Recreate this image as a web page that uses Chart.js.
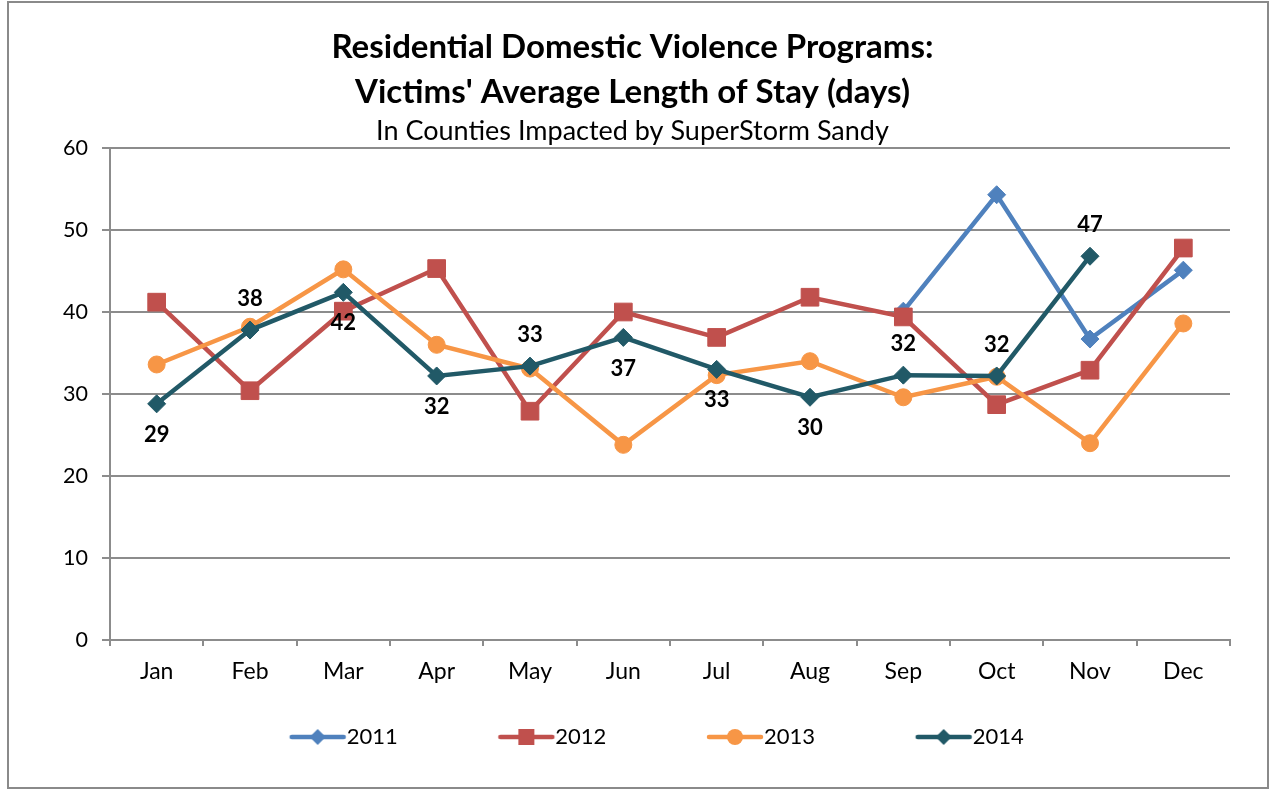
<!DOCTYPE html>
<html>
<head>
<meta charset="utf-8">
<title>Residential Domestic Violence Programs</title>
<script src="https://cdn.jsdelivr.net/npm/chart.js@4.4.1/dist/chart.umd.min.js"></script>
<style>
  html, body { margin: 0; padding: 0; background: #fff; }
  #wrap { position: relative; width: 1275px; height: 790px; }
  #frame { position: absolute; left: 7px; top: 1px; width: 1258px; height: 784px; border: 2px solid #8a8a8a; pointer-events: none; }
  canvas { display: block; }
</style>
</head>
<body>
<div id="wrap">
  <canvas id="chart" width="1275" height="790"></canvas>
  <div id="frame"></div>
</div>
<script>
const months = ["Jan", "Feb", "Mar", "Apr", "May", "Jun", "Jul", "Aug", "Sep", "Oct", "Nov", "Dec"];
const seriesNames = ["2011", "2012", "2013", "2014"];

// average length of stay, days
const stay2011 = [null, null, null, null, null, null, null, null, 40.1, 54.3, 36.7, 45.1];
const stay2012 = [41.2, 30.4, 40.1, 45.3, 27.9, 40.0, 36.9, 41.8, 39.4, 28.7, 32.9, 47.8];
const stay2013 = [33.6, 38.2, 45.2, 36.0, 33.1, 23.8, 32.3, 34.0, 29.6, 32.1, 24.0, 38.6];
const stay2014 = [28.8, 37.8, 42.4, 32.2, 33.4, 36.9, 33.0, 29.6, 32.3, 32.2, 46.8, null];

// where the 2014 value labels sit relative to their point
const labelSide2014 = ["below", "above", "below", "below", "above", "below", "below", "below", "above", "above", "above", null];

const FONT = 'Lato, "Open Sans", sans-serif';
const GRID = "#8c8c8c";
const LEGEND_BOX = 100;

const styles = [
  { color: "#4f81bd", point: "rectRot", radius: 9 },
  { color: "#c0504d", point: "rect", radius: 12.5 },
  { color: "#f79646", point: "circle", radius: 8.5 },
  { color: "#215967", point: "rectRot", radius: 9 }
];

// legend swatch: a short line with the series marker in the middle
function legendSwatch(style) {
  const half = LEGEND_BOX / 2 + 12;
  const shift = half - LEGEND_BOX / 2;
  const c = document.createElement("canvas");
  c.width = half * 2;
  c.height = 24;
  const g = c.getContext("2d");
  const x0 = LEGEND_BOX - 44 + shift;
  const x1 = LEGEND_BOX + 8 + shift;
  const cx = (x0 + x1) / 2, cy = 12;
  g.strokeStyle = style.color;
  g.fillStyle = style.color;
  g.lineWidth = 4.5;
  g.lineCap = "round";
  g.beginPath();
  g.moveTo(x0, cy);
  g.lineTo(x1, cy);
  g.stroke();
  g.beginPath();
  if (style.point === "rect") {
    g.rect(cx - 8, cy - 8, 16, 16);
  } else if (style.point === "circle") {
    g.arc(cx, cy, 8, 0, Math.PI * 2);
  } else {
    g.moveTo(cx, cy - 8);
    g.lineTo(cx + 8, cy);
    g.lineTo(cx, cy + 8);
    g.lineTo(cx - 8, cy);
    g.closePath();
  }
  g.fill();
  return c;
}

const swatches = styles.map(legendSwatch);

const pointLabels = {
  id: "pointLabels",
  afterDatasetsDraw(chart) {
    const meta = chart.getDatasetMeta(3);
    const ctx = chart.ctx;
    ctx.save();
    ctx.font = "bold 22px " + FONT;
    ctx.fillStyle = "#000";
    ctx.textAlign = "center";
    ctx.textBaseline = "middle";
    meta.data.forEach((pt, i) => {
      const v = stay2014[i];
      if (v == null || !labelSide2014[i]) return;
      const dy = labelSide2014[i] === "above" ? -31 : 31;
      ctx.fillText(String(Math.round(v)), pt.x, pt.y + dy);
    });
    ctx.restore();
  }
};

const series = [stay2011, stay2012, stay2013, stay2014];

new Chart(document.getElementById("chart"), {
  type: "line",
  data: {
    labels: months,
    datasets: series.map((data, i) => ({
      label: seriesNames[i],
      data,
      borderColor: styles[i].color,
      backgroundColor: styles[i].color,
      borderWidth: 4.5,
      pointStyle: styles[i].point,
      pointRadius: styles[i].radius,
      pointHoverRadius: styles[i].radius,
      pointBackgroundColor: styles[i].color,
      pointBorderColor: styles[i].color,
      pointBorderWidth: 1,
      tension: 0,
      order: 3 - i,
      yAxisID: "y"
    }))
  },
  plugins: [pointLabels],
  options: {
    responsive: false,
    animation: false,
    layout: { padding: { left: 0, right: 10, top: 0, bottom: 32 } },
    plugins: {
      title: {
        display: true,
        text: ["Residential Domestic Violence Programs:", "Victims' Average Length of Stay (days)"],
        color: "#000",
        font: { family: FONT, size: 33, weight: "bold", lineHeight: 45 / 33 },
        padding: { top: 25, bottom: 0 }
      },
      subtitle: {
        display: true,
        text: "In Counties Impacted by SuperStorm Sandy",
        color: "#000",
        font: { family: FONT, size: 27, lineHeight: 1.2 },
        padding: { top: 0, bottom: 0.6 }
      },
      legend: {
        position: "bottom",
        labels: {
          usePointStyle: true,
          pointStyleWidth: LEGEND_BOX,
          padding: 41,
          color: "#000",
          font: { family: FONT, size: 22 },
          generateLabels: chart => chart.data.datasets.map((ds, i) => ({
            text: ds.label + " ",
            pointStyle: swatches[i],
            fillStyle: ds.borderColor,
            strokeStyle: ds.borderColor,
            lineWidth: 0,
            hidden: false,
            datasetIndex: i
          }))
        }
      },
      tooltip: { enabled: false }
    },
    scales: {
      x: {
        type: "category",
        offset: true,
        grid: { offset: true, drawOnChartArea: false, drawTicks: true, tickLength: 6, color: GRID, lineWidth: 2 },
        border: { display: true, color: GRID, width: 2 },
        ticks: { color: "#000", padding: 12, autoSkip: false, maxRotation: 0, font: { family: FONT, size: 23 } },
        afterFit: s => { s.height = 45; }
      },
      y: {
        min: 0,
        max: 60,
        ticks: { stepSize: 10, padding: 14, color: "#000", font: { family: FONT, size: 21.5 } },
        grid: { color: GRID, lineWidth: 2, tickLength: 8 },
        border: { display: true, color: GRID, width: 2 },
        afterFit: s => { s.width = 110; }
      },
      // keeps the plot's right edge clear of the frame
      yPad: {
        type: "linear",
        position: "right",
        display: true,
        grid: { display: false },
        border: { display: false },
        ticks: { display: false },
        afterFit: s => { s.width = 35; }
      }
    }
  }
});
</script>
</body>
</html>
